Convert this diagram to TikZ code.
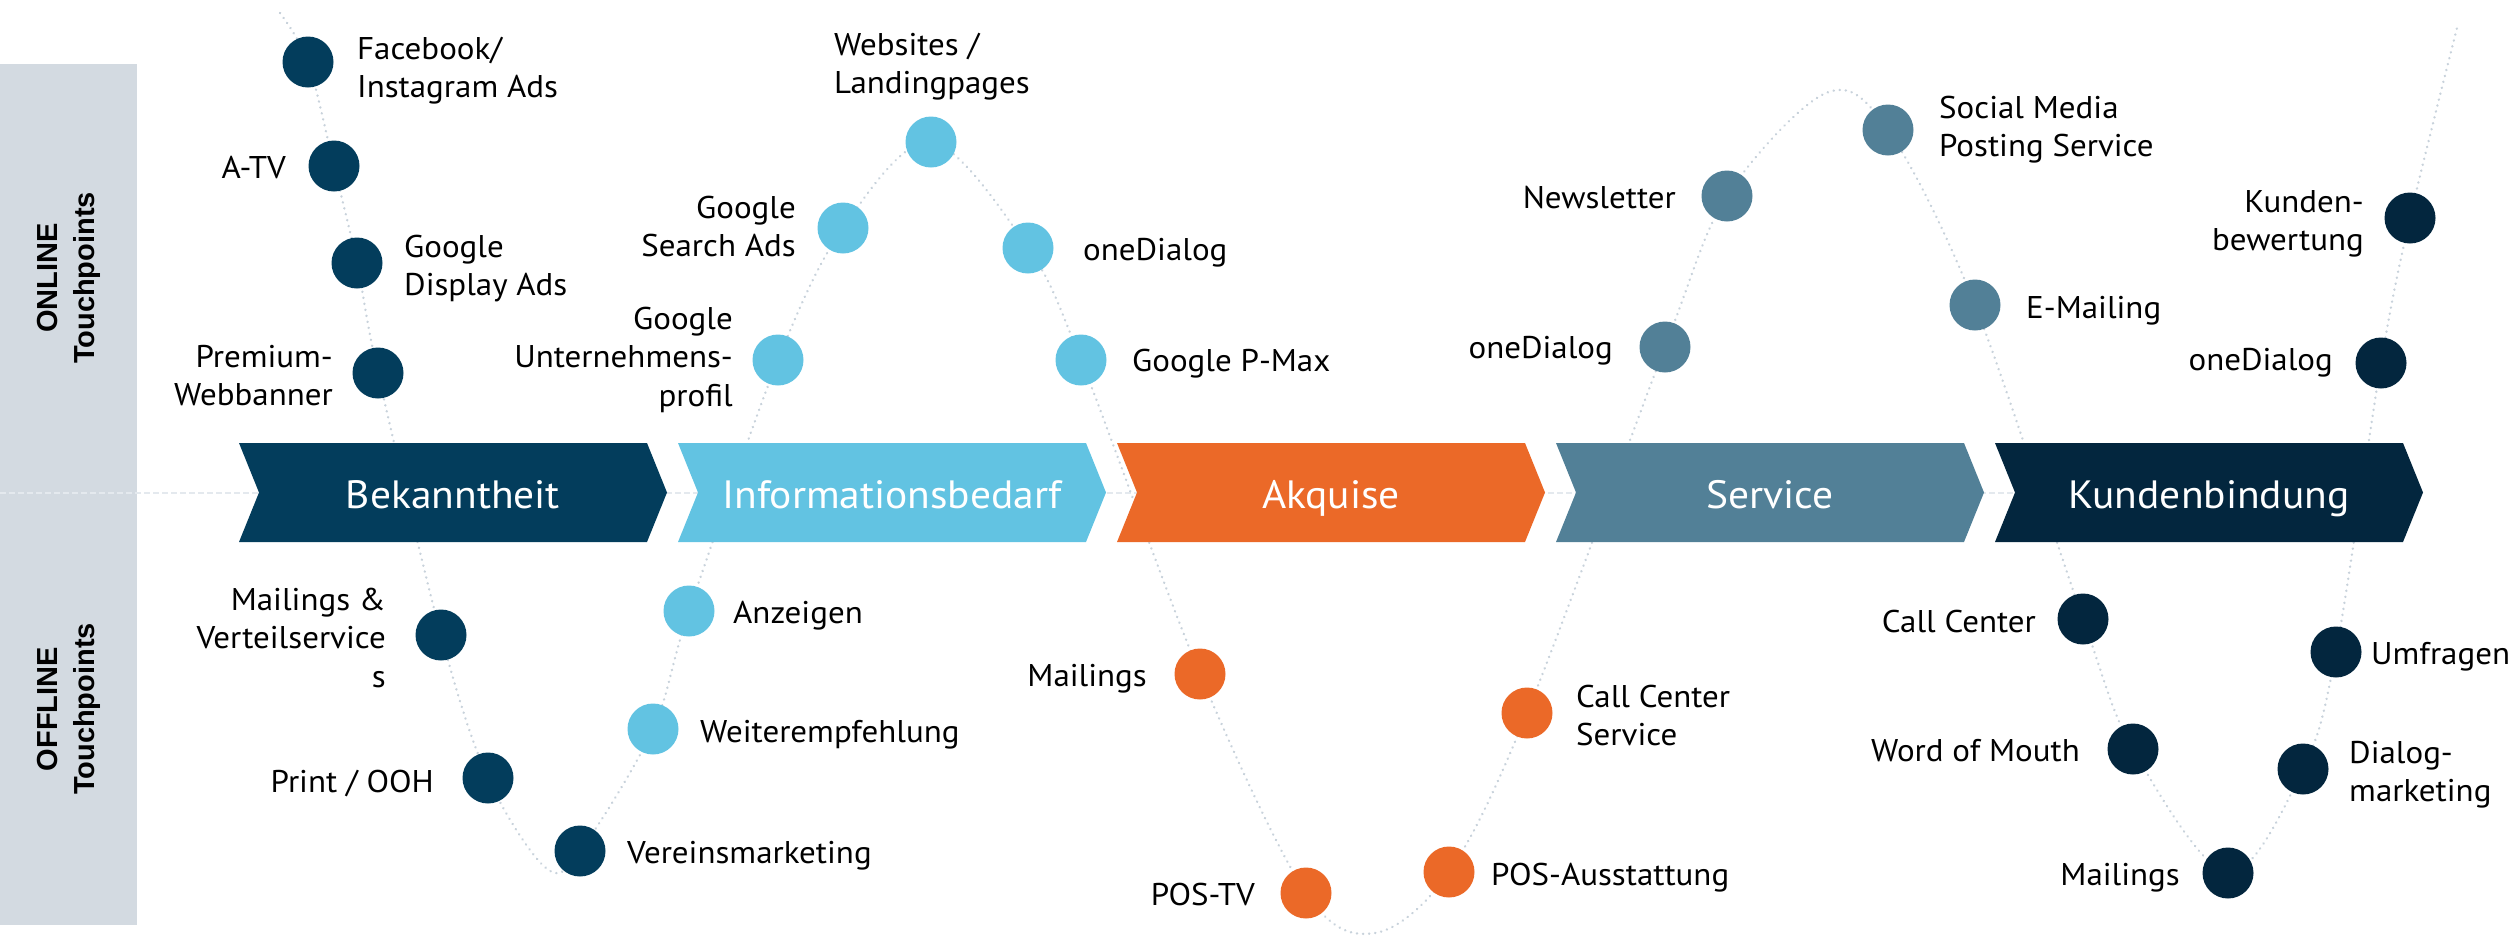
\documentclass[tikz,border=0pt]{standalone}
\usepackage{fontspec}
\setmainfont{PT Sans}[FakeStretch=1.05]
\newfontfamily\panelfont{Liberation Sans}
\pgfdeclarelayer{background}
\pgfsetlayers{background,main}
\definecolor{cbek}{HTML}{033D5C}
\definecolor{cinf}{HTML}{62C3E2}
\definecolor{cakq}{HTML}{EB6928}
\definecolor{cser}{HTML}{528097}
\definecolor{ckun}{HTML}{03263E}
\definecolor{cpanel}{HTML}{D3DAE1}
\definecolor{caxis}{HTML}{E4E9EE}
\definecolor{ccurve}{HTML}{C8D2DB}
\tikzset{
  dot/.style={circle, fill=#1, minimum size=51pt, inner sep=0pt},
  lbl/.style={font=\fontsize{31.4}{38.5}\selectfont, inner sep=0pt, text=black,
    execute at begin node=\strut, yshift=26.95pt},
  lr/.style={lbl, anchor=north west, align=left},
  ll/.style={lbl, anchor=north east, align=right},
  phase/.style={anchor=base, inner sep=0pt, text=white, font=\fontsize{39.5}{48}\selectfont},
  panellbl/.style={rotate=90, align=center, inner sep=0pt,
    font=\panelfont\bfseries\fontsize{29}{37}\selectfont},
  curve/.style={draw=ccurve, line width=2.6pt, line cap=round, dash pattern=on 0.1pt off 6pt},
  axis/.style={draw=caxis, line width=2pt, dash pattern=on 6pt off 3pt}
}
\begin{document}
\begin{tikzpicture}[x=1pt,y=-1pt]
\useasboundingbox (0,0) rectangle (2514,935);
% circles (touchpoints)
\node[dot=cbek] (fb)   at (308,62)  {};
\node[dot=cbek] (atv)  at (334,166) {};
\node[dot=cbek] (gda)  at (357,263) {};
\node[dot=cbek] (pwb)  at (378,373) {};
\node[dot=cbek] (mvs)  at (441,635) {};
\node[dot=cbek] (pooh) at (488,778) {};
\node[dot=cbek] (vm)   at (580,851) {};
\node[dot=cinf] (wem)  at (653,729) {};
\node[dot=cinf] (anz)  at (689,611) {};
\node[dot=cinf] (gup)  at (778,360) {};
\node[dot=cinf] (gsa)  at (843,228) {};
\node[dot=cinf] (web)  at (931,142) {};
\node[dot=cinf] (odi)  at (1028,248) {};
\node[dot=cinf] (gpm)  at (1081,360) {};
\node[dot=cakq] (mak)  at (1200,674) {};
\node[dot=cakq] (ptv)  at (1306,893) {};
\node[dot=cakq] (pau)  at (1449,872) {};
\node[dot=cakq] (ccs)  at (1527,713) {};
\node[dot=cser] (ods)  at (1665,347) {};
\node[dot=cser] (nl)   at (1727,196) {};
\node[dot=cser] (smp)  at (1888,130) {};
\node[dot=cser] (em)   at (1975,305) {};
\node[dot=ckun] (cc)   at (2083,619) {};
\node[dot=ckun] (wom)  at (2133,749) {};
\node[dot=ckun] (mkb)  at (2228,873) {};
\node[dot=ckun] (dm)   at (2303,769) {};
\node[dot=ckun] (umf)  at (2336,652) {};
\node[dot=ckun] (odk)  at (2381,363) {};
\node[dot=ckun] (kbw)  at (2410,218) {};
\coordinate (cs) at (280,13);
\coordinate (b1) at (546,868);
\coordinate (b2) at (1375,933);
\coordinate (p2) at (1826,93);
\coordinate (ce) at (2457,28);
\coordinate (axl) at (0,492.5);
\coordinate (axr) at (2400,492.5);
\begin{pgfonlayer}{background}
  \fill[cpanel] (0,64) rectangle (137,925);
  \draw[axis] (axl) -- (axr);
  \draw[curve] plot[smooth, tension=0.55] coordinates {
    (cs) (fb.center) (atv.center) (gda.center) (pwb.center) (mvs.center) (pooh.center)
    (b1) (vm.center) (wem.center) (anz.center) (gup.center) (gsa.center) (web.center)
    (odi.center) (gpm.center) (mak.center) (ptv.center) (b2) (pau.center) (ccs.center)
    (ods.center) (nl.center) (p2) (smp.center) (em.center) (cc.center) (wom.center)
    (mkb.center) (dm.center) (umf.center) (odk.center) (kbw.center) (ce)};
\end{pgfonlayer}
% panel labels
\node[panellbl] (online)  at (68.5,278) {ONLINE\\Touchpoints};
\node[panellbl] (offline) at (68.5,709) {OFFLINE\\Touchpoints};
% chevrons
\foreach \L/\c in {239/cbek, 678/cinf, 1117/cakq, 1556/cser, 1995/ckun}{
  \fill[\c] (\L,443) -- ++(408,0) -- ++(20,49.5) -- ++(-20,49.5) -- ++(-408,0) -- ++(20,-49.5) -- cycle;
}
\node[phase] (tbek) at (453,508)  {Bekanntheit};
\node[phase] (tinf) at (892,508)  {Informationsbedarf};
\node[phase] (takq) at (1331,508) {Akquise};
\node[phase] (tser) at (1770,508) {Service};
\node[phase] (tkun) at (2209,508) {Kundenbindung};
% labels
\node[lr] (lfb)   at (357,59)   {\strut Facebook/\\Instagram Ads};
\node[ll] (latv)  at (286,178)  {A-TV};
\node[lr] (lgda)  at (404,257)  {\strut Google\\Display Ads};
\node[ll] (lpwb)  at (333,367)  {\strut Premium-\\Webbanner};
\node[ll] (lmvs)  at (386,610)  {\strut Mailings \&\\Verteilservice\\s};
\node[ll] (lpooh) at (434,792)  {Print / OOH};
\node[lr] (lvm)   at (627,863)  {Vereinsmarketing};
\node[lr] (lwem)  at (700,742)  {Weiterempfehlung};
\node[lr] (lanz)  at (733,623)  {Anzeigen};
\node[ll] (lgup)  at (733,329)  {\strut Google\\Unternehmens-\\profil};
\node[ll] (lgsa)  at (796,218)  {\strut Google\\Search Ads};
\node[lr] (lweb)  at (834,55)   {\strut Websites /\\Landingpages};
\node[lr] (lodi)  at (1083,260) {oneDialog};
\node[lr] (lgpm)  at (1132,371) {Google P-Max};
\node[ll] (lmak)  at (1147,686) {Mailings};
\node[ll] (lptv)  at (1255,905) {POS-TV};
\node[lr] (lpau)  at (1491,885) {POS-Ausstattung};
\node[lr] (lccs)  at (1576,707) {\strut Call Center\\Service};
\node[ll] (lods)  at (1613,358) {oneDialog};
\node[ll] (lnl)   at (1676,208) {Newsletter};
\node[lr] (lsmp)  at (1939,118) {\strut Social Media\\Posting Service};
\node[lr] (lem)   at (2026,318) {E-Mailing};
\node[ll] (lcc)   at (2036,632) {Call Center};
\node[ll] (lwom)  at (2080,761) {Word of Mouth};
\node[ll] (lmkb)  at (2180,885) {Mailings};
\node[lr] (ldm)   at (2349,763) {\strut Dialog-\\marketing};
\node[lr] (lumf)  at (2371,664) {Umfragen};
\node[ll] (lodk)  at (2333,370) {oneDialog};
\node[ll] (lkbw)  at (2364,212) {\strut Kunden-\\bewertung};
\end{tikzpicture}
\end{document}
